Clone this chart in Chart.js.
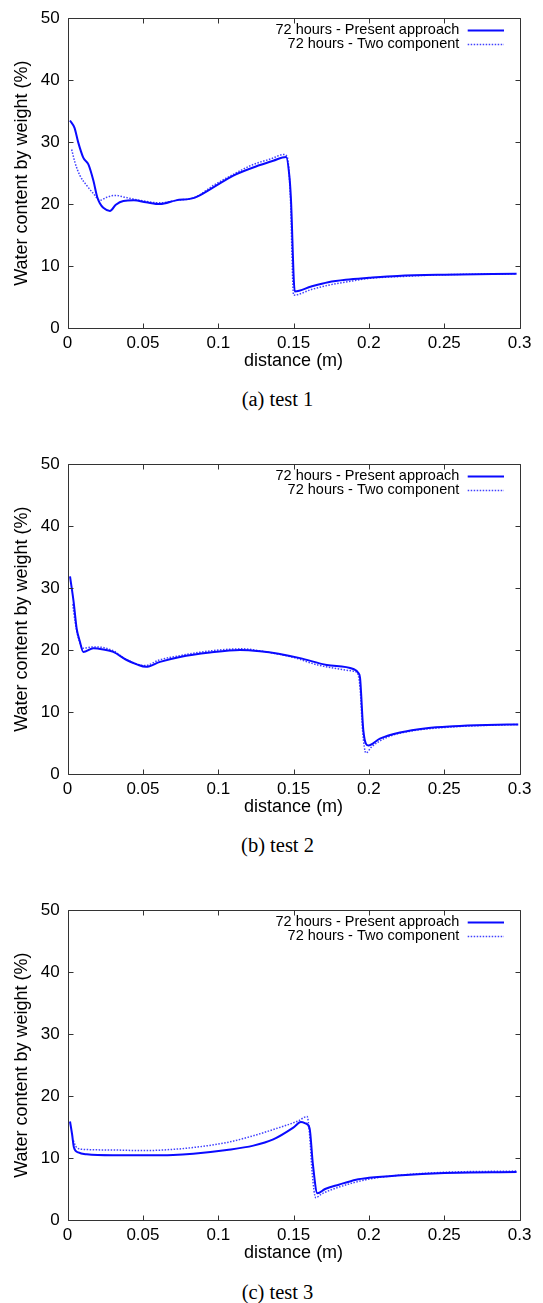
<!DOCTYPE html>
<html>
<head>
<meta charset="utf-8">
<title>Water content profiles after 72 hours</title>
<script src="https://cdn.jsdelivr.net/npm/chart.js@4.4.1/dist/chart.umd.min.js"></script>
<style>
  body { margin: 0; background: #fff; }
  #page { position: relative; width: 543px; height: 1303px; overflow: hidden; }
  canvas { position: absolute; left: 0; }
  .caption {
    position: absolute; left: 0; width: 555px; text-align: center;
    font-family: "Liberation Serif", "Times New Roman", serif;
    font-size: 20.5px; line-height: 24px; color: #000;
  }
</style>
</head>
<body>
<div id="page">
  <canvas id="test1" width="543" height="380" style="top:0px"></canvas>
  <div class="caption" style="top:387px">(a) test 1</div>
  <canvas id="test2" width="543" height="380" style="top:446px"></canvas>
  <div class="caption" style="top:833px">(b) test 2</div>
  <canvas id="test3" width="543" height="380" style="top:892px"></canvas>
  <div class="caption" style="top:1280px">(c) test 3</div>
</div>
<script>
// axes
var xTicks = [0, 0.05, 0.1, 0.15, 0.2, 0.25, 0.3];
var xTickLabels = ['0', '0.05', '0.1', '0.15', '0.2', '0.25', '0.3'];
var yTicks = [0, 10, 20, 30, 40, 50];
var yTickLabels = ['0', '10', '20', '30', '40', '50'];

var seriesNames = ['72 hours - Present approach', '72 hours - Two component'];

// test 1
var t1PresentX = [0.0016, 0.0046, 0.0070, 0.0104, 0.0138, 0.0171, 0.0197, 0.0215, 0.0237, 0.0281,
  0.0320, 0.0370, 0.0440, 0.0520, 0.0613, 0.0720, 0.0840, 0.0967, 0.1100, 0.1277,
  0.1365, 0.1450, 0.1472, 0.1482, 0.1508, 0.1617, 0.1730, 0.1846, 0.2000, 0.2190,
  0.2500, 0.2980];
var t1PresentY = [33.5, 32.3, 30.0, 27.5, 26.4, 23.8, 21.1, 20.1, 19.4, 18.9,
  19.9, 20.5, 20.6, 20.3, 20.0, 20.6, 21.0, 22.7, 24.6, 26.3,
  27.0, 27.6, 24.5, 21.0, 5.9, 6.7, 7.4, 7.8, 8.1, 8.4,
  8.6, 8.75];
var t1TwoX = [0.0027, 0.0049, 0.0082, 0.0127, 0.0171, 0.0215, 0.0260, 0.0315, 0.0380, 0.0480,
  0.0613, 0.0724, 0.0846, 0.0967, 0.1100, 0.1233, 0.1350, 0.1435, 0.1458, 0.1478,
  0.1500, 0.1617, 0.1730, 0.1846, 0.2000, 0.2250, 0.2500, 0.2980];
var t1TwoY = [28.8, 26.7, 24.6, 23.0, 21.7, 20.6, 21.1, 21.4, 21.1, 20.6,
  20.2, 20.6, 21.1, 23.0, 24.8, 26.4, 27.3, 28.0, 27.6, 21.5,
  5.3, 6.2, 6.9, 7.4, 8.0, 8.35, 8.6, 8.75];

// test 2
var t2PresentX = [0.0016, 0.0040, 0.0060, 0.0080, 0.0104, 0.0171, 0.0237, 0.0303, 0.0392, 0.0459,
  0.0520, 0.0613, 0.0746, 0.0945, 0.1144, 0.1277, 0.1400, 0.1543, 0.1720, 0.1896,
  0.1930, 0.1941, 0.1963, 0.1996, 0.2073, 0.2206, 0.2383, 0.2560, 0.2782, 0.2991];
var t2PresentY = [31.9, 27.8, 23.5, 21.5, 19.7, 20.3, 20.1, 19.7, 18.4, 17.7,
  17.3, 18.1, 18.9, 19.6, 20.0, 19.8, 19.4, 18.7, 17.6, 16.95,
  16.3, 15.5, 7.0, 4.6, 5.7, 6.7, 7.4, 7.7, 7.9, 8.0];
var t2TwoX = [0.0034, 0.0050, 0.0071, 0.0104, 0.0171, 0.0237, 0.0310, 0.0380, 0.0516, 0.0608,
  0.0746, 0.0837, 0.0998, 0.1160, 0.1296, 0.1500, 0.1660, 0.1896, 0.1923, 0.1941,
  0.1958, 0.1980, 0.2018, 0.2118, 0.2273, 0.2560, 0.2991];
var t2TwoY = [27.4, 24.5, 22.0, 20.3, 20.5, 20.4, 19.8, 18.6, 17.5, 18.4,
  19.1, 19.5, 20.0, 20.2, 19.8, 18.8, 17.6, 16.6, 16.3, 13.9,
  7.0, 3.4, 4.4, 5.9, 6.9, 7.6, 8.0];

// test 3
var t3PresentX = [0.0016, 0.0030, 0.0042, 0.0071, 0.0127, 0.0300, 0.0502, 0.0700, 0.0834, 0.1056,
  0.1233, 0.1365, 0.1498, 0.1548, 0.1578, 0.1606, 0.1628, 0.1658, 0.1709, 0.1800,
  0.1915, 0.2000, 0.2190, 0.2500, 0.2980];
var t3PresentY = [15.9, 13.8, 11.7, 10.9, 10.6, 10.45, 10.45, 10.5, 10.7, 11.3,
  12.0, 13.0, 14.9, 15.8, 15.6, 14.8, 9.0, 4.3, 5.0, 5.7,
  6.5, 6.8, 7.2, 7.6, 7.75];
var t3TwoX = [0.0038, 0.0060, 0.0104, 0.0300, 0.0502, 0.0700, 0.0834, 0.1056, 0.1233, 0.1365,
  0.1531, 0.1590, 0.1606, 0.1624, 0.1647, 0.1686, 0.1800, 0.2000, 0.2190, 0.2500,
  0.2980];
var t3TwoY = [12.8, 11.7, 11.4, 11.3, 11.2, 11.4, 11.7, 12.5, 13.6, 14.6,
  16.0, 16.7, 13.8, 7.4, 3.6, 4.2, 5.3, 6.6, 7.2, 7.7,
  7.9];

Chart.defaults.font.family = '"Liberation Sans", Arial, Helvetica, sans-serif';
Chart.defaults.color = '#000';

function points(xs, ys) {
  return xs.map(function(x, i) { return { x: x, y: ys[i] }; });
}

// box round the plot with inward ticks on all four sides
var framePlugin = {
  id: 'frame',
  afterDatasetsDraw: function(chart) {
    var a = chart.chartArea, ctx = chart.ctx;
    var sx = chart.scales.x, sy = chart.scales.y;
    var l = Math.round(a.left) + 0.5, r = Math.round(a.right) + 0.5;
    var t = Math.round(a.top) + 0.5, b = Math.round(a.bottom) + 0.5;
    ctx.save();
    ctx.strokeStyle = '#333';
    ctx.lineWidth = 1;
    ctx.beginPath();
    ctx.rect(l, t, r - l, b - t);
    xTicks.forEach(function(v) {
      var px = Math.round(sx.getPixelForValue(v)) + 0.5;
      ctx.moveTo(px, b); ctx.lineTo(px, b - 5);
      ctx.moveTo(px, t); ctx.lineTo(px, t + 5);
    });
    yTicks.forEach(function(v) {
      var py = Math.round(sy.getPixelForValue(v)) + 0.5;
      ctx.moveTo(l, py); ctx.lineTo(l + 5, py);
      ctx.moveTo(r, py); ctx.lineTo(r - 5, py);
    });
    ctx.stroke();
    ctx.restore();
  }
};

// key in the top right corner: text first, line sample after it
var keyPlugin = {
  id: 'key',
  afterDatasetsDraw: function(chart) {
    var a = chart.chartArea, ctx = chart.ctx;
    ctx.save();
    ctx.font = '14.5px "Liberation Sans", Arial, sans-serif';
    ctx.textAlign = 'right';
    ctx.textBaseline = 'middle';
    ctx.fillStyle = '#000';
    chart.data.datasets.forEach(function(ds, i) {
      var y = a.top + 12 + i * 13.4;
      ctx.fillText(ds.label, a.right - 60.3, y);
      ctx.strokeStyle = ds.borderColor;
      ctx.lineWidth = ds.borderWidth;
      ctx.setLineDash(ds.borderDash || []);
      ctx.beginPath();
      ctx.moveTo(a.right - 51.9, Math.round(y) + 0.5);
      ctx.lineTo(a.right - 15.6, Math.round(y) + 0.5);
      ctx.stroke();
    });
    ctx.restore();
  }
};

function makeChart(id, presentX, presentY, twoX, twoY) {
  var ctx = document.getElementById(id);
  return new Chart(ctx, {
    type: 'line',
    data: {
      datasets: [
        {
          label: seriesNames[0],
          data: points(presentX, presentY),
          borderColor: '#0a0aff',
          borderWidth: 2,
          cubicInterpolationMode: 'monotone',
          pointRadius: 0,
          fill: false
        },
        {
          label: seriesNames[1],
          data: points(twoX, twoY),
          borderColor: '#4040ff',
          borderWidth: 1.5,
          borderDash: [1.5, 1.5],
          cubicInterpolationMode: 'monotone',
          pointRadius: 0,
          fill: false
        }
      ]
    },
    options: {
      responsive: false,
      animation: false,
      events: [],
      layout: { padding: { left: 0, right: 23.4, top: 13.3, bottom: 0 } },
      plugins: {
        legend: { display: false },
        tooltip: { enabled: false }
      },
      scales: {
        x: {
          type: 'linear',
          min: 0,
          max: 0.3,
          grid: { display: false, drawTicks: false },
          border: { display: false },
          afterBuildTicks: function(scale) {
            scale.ticks = xTicks.map(function(v) { return { value: v }; });
          },
          afterFit: function(scale) { scale.height = 52; },
          ticks: {
            font: { size: 17 },
            padding: 5,
            maxRotation: 0,
            autoSkip: false,
            callback: function(value, index) { return xTickLabels[index]; }
          },
          title: {
            display: true,
            text: 'distance (m)',
            font: { size: 18 },
            padding: { top: 0, bottom: 8.2 }
          }
        },
        y: {
          min: 0,
          max: 50,
          grid: { display: false, drawTicks: false },
          border: { display: false },
          afterBuildTicks: function(scale) {
            scale.ticks = yTicks.map(function(v) { return { value: v }; });
          },
          afterFit: function(scale) { scale.width = 67.6; },
          ticks: {
            font: { size: 17 },
            padding: 8,
            autoSkip: false,
            callback: function(value, index) { return yTickLabels[index]; }
          },
          title: {
            display: true,
            text: 'Water content by weight (%)',
            font: { size: 18 },
            padding: { top: 11.7, bottom: 0 }
          }
        }
      }
    },
    plugins: [framePlugin, keyPlugin]
  });
}

makeChart('test1', t1PresentX, t1PresentY, t1TwoX, t1TwoY);
makeChart('test2', t2PresentX, t2PresentY, t2TwoX, t2TwoY);
makeChart('test3', t3PresentX, t3PresentY, t3TwoX, t3TwoY);
</script>
</body>
</html>
